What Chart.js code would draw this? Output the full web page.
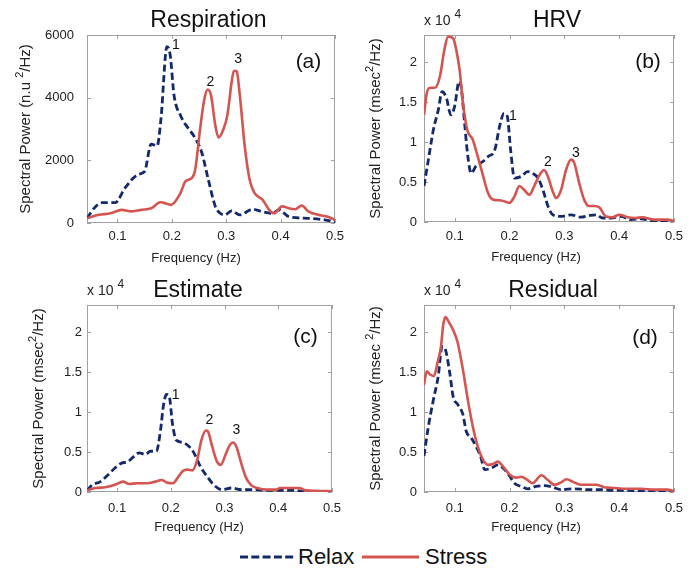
<!DOCTYPE html>
<html>
<head>
<meta charset="utf-8">
<script src="https://cdn.jsdelivr.net/npm/chart.js@4.4.1/dist/chart.umd.min.js"></script>
<style>
  body { margin: 0; background: #fff; }
  #page { position: relative; width: 695px; height: 569px; overflow: hidden; font-family: "Liberation Sans", Arial, sans-serif; }
  #page canvas { position: absolute; }
  #legend { position: absolute; left: 0; top: 543px; width: 695px; height: 28px; }
  #legend svg, #legend span { position: absolute; }
  #legend span { font-size: 22px; line-height: 28px; top: 0; color: #111; }
</style>
</head>
<body>
<div id="page">
  <div id="legend">
    <svg style="left:240px;top:12px" width="54" height="4"><line x1="0" y1="2" x2="54" y2="2" stroke="#14296b" stroke-width="3" stroke-dasharray="8 3.3"/></svg>
    <span style="left:298px">Relax</span>
    <svg style="left:362px;top:12px" width="57" height="4"><line x1="0" y1="2" x2="57" y2="2" stroke="#d4544f" stroke-width="3"/></svg>
    <span style="left:425px">Stress</span>
  </div>
</div>
<script>
const freqTicks = [0.1, 0.2, 0.3, 0.4, 0.5];
const respTicks = [0, 2000, 4000, 6000];
const hrvTicks = [0, 0.5, 1, 1.5, 2];
const peakNames = ["1", "2", "3"];

// (a) respiration, n.u.^2/Hz
const respRelaxHz = [0.044, 0.060, 0.072, 0.096, 0.114, 0.138, 0.150, 0.162, 0.173, 0.180, 0.191, 0.197, 0.204, 0.216, 0.231, 0.240, 0.255, 0.267, 0.280, 0.289, 0.298, 0.310, 0.325, 0.349, 0.364, 0.385, 0.397, 0.415, 0.451, 0.481, 0.500];
const respRelaxPow = [150, 530, 650, 650, 1120, 1550, 1650, 2520, 2460, 3320, 5630, 5360, 4080, 3430, 3000, 2790, 2250, 1390, 530, 310, 260, 390, 260, 440, 370, 310, 420, 200, 150, 100, 40];
const respStressHz = [0.044, 0.066, 0.087, 0.108, 0.123, 0.144, 0.162, 0.179, 0.199, 0.216, 0.225, 0.237, 0.243, 0.252, 0.260, 0.266, 0.272, 0.280, 0.286, 0.295, 0.302, 0.310, 0.314, 0.319, 0.325, 0.334, 0.343, 0.352, 0.367, 0.379, 0.388, 0.403, 0.415, 0.427, 0.439, 0.451, 0.469, 0.487, 0.500];
const respStressPow = [150, 260, 310, 420, 370, 420, 470, 660, 580, 960, 1330, 1440, 1710, 3000, 3970, 4260, 4080, 3110, 2730, 3000, 3430, 4500, 4850, 4850, 4080, 2460, 1390, 960, 740, 420, 310, 530, 470, 440, 560, 370, 260, 200, 100];
const respPeakHz = [0.2075, 0.271, 0.322];
const respPeakPow = [5680, 4500, 5230];

// (b) HRV, x 10^4 msec^2/Hz
const hrvRelaxHz = [0.044, 0.052, 0.061, 0.070, 0.077, 0.085, 0.093, 0.100, 0.108, 0.112, 0.118, 0.124, 0.130, 0.139, 0.152, 0.161, 0.173, 0.182, 0.190, 0.196, 0.202, 0.209, 0.221, 0.233, 0.242, 0.252, 0.261, 0.270, 0.279, 0.294, 0.312, 0.330, 0.345, 0.358, 0.370, 0.385, 0.403, 0.421, 0.439, 0.464, 0.500];
const hrvRelaxPow = [0.45, 0.78, 1.15, 1.40, 1.63, 1.55, 1.34, 1.45, 1.76, 1.68, 1.24, 0.82, 0.61, 0.70, 0.76, 0.82, 0.90, 1.20, 1.36, 1.32, 0.90, 0.55, 0.57, 0.63, 0.61, 0.55, 0.40, 0.20, 0.09, 0.07, 0.09, 0.06, 0.08, 0.09, 0.05, 0.05, 0.07, 0.03, 0.04, 0.01, 0];
const hrvStressHz = [0.044, 0.049, 0.055, 0.064, 0.073, 0.081, 0.088, 0.097, 0.103, 0.109, 0.115, 0.123, 0.133, 0.142, 0.152, 0.161, 0.170, 0.185, 0.200, 0.209, 0.218, 0.227, 0.236, 0.245, 0.255, 0.263, 0.270, 0.279, 0.285, 0.294, 0.303, 0.312, 0.318, 0.327, 0.336, 0.345, 0.355, 0.364, 0.376, 0.388, 0.400, 0.415, 0.430, 0.442, 0.464, 0.488, 0.500];
const hrvStressPow = [1.34, 1.61, 1.68, 1.68, 1.82, 2.15, 2.32, 2.30, 2.15, 1.90, 1.49, 1.15, 1.03, 0.82, 0.57, 0.36, 0.28, 0.27, 0.24, 0.32, 0.45, 0.40, 0.34, 0.45, 0.59, 0.65, 0.57, 0.38, 0.30, 0.40, 0.65, 0.78, 0.74, 0.49, 0.28, 0.20, 0.20, 0.18, 0.07, 0.06, 0.09, 0.06, 0.05, 0.06, 0.03, 0.03, 0.01];
const hrvPeakHz = [0.206, 0.270, 0.321];
const hrvPeakPow = [1.33, 0.745, 0.86];

// (c) estimate
const estRelaxHz = [0.044, 0.054, 0.069, 0.084, 0.096, 0.108, 0.120, 0.132, 0.141, 0.153, 0.162, 0.173, 0.181, 0.186, 0.192, 0.197, 0.203, 0.210, 0.222, 0.234, 0.243, 0.255, 0.267, 0.280, 0.295, 0.313, 0.331, 0.355, 0.379, 0.403, 0.433, 0.451, 0.500];
const estRelaxPow = [0.02, 0.09, 0.13, 0.22, 0.30, 0.36, 0.38, 0.45, 0.49, 0.47, 0.51, 0.51, 0.78, 1.07, 1.22, 1.20, 0.86, 0.65, 0.62, 0.57, 0.49, 0.32, 0.20, 0.09, 0.03, 0.05, 0.03, 0.03, 0.02, 0.02, 0.02, 0, 0];
const estStressHz = [0.044, 0.060, 0.078, 0.096, 0.111, 0.123, 0.138, 0.156, 0.171, 0.183, 0.192, 0.204, 0.213, 0.222, 0.231, 0.240, 0.249, 0.257, 0.265, 0.269, 0.277, 0.286, 0.293, 0.302, 0.310, 0.316, 0.322, 0.331, 0.340, 0.349, 0.361, 0.379, 0.397, 0.403, 0.439, 0.451, 0.500];
const estStressPow = [0.02, 0.05, 0.06, 0.09, 0.13, 0.10, 0.11, 0.11, 0.13, 0.15, 0.12, 0.11, 0.18, 0.26, 0.28, 0.27, 0.40, 0.65, 0.77, 0.76, 0.57, 0.38, 0.34, 0.47, 0.59, 0.62, 0.57, 0.36, 0.18, 0.09, 0.05, 0.03, 0.03, 0.05, 0.05, 0.02, 0.01];
const estPeakHz = [0.209, 0.272, 0.322];
const estPeakPow = [1.21, 0.90, 0.775];

// (d) residual
const resRelaxHz = [0.044, 0.052, 0.061, 0.070, 0.077, 0.082, 0.091, 0.097, 0.106, 0.115, 0.121, 0.130, 0.139, 0.147, 0.155, 0.167, 0.179, 0.191, 0.200, 0.209, 0.221, 0.233, 0.248, 0.264, 0.279, 0.294, 0.318, 0.342, 0.367, 0.391, 0.415, 0.439, 0.500];
const resRelaxPow = [0.45, 0.82, 1.15, 1.45, 1.82, 1.80, 1.49, 1.20, 1.09, 0.97, 0.76, 0.68, 0.57, 0.45, 0.28, 0.30, 0.34, 0.28, 0.20, 0.11, 0.07, 0.04, 0.07, 0.08, 0.06, 0.03, 0.04, 0.03, 0.03, 0.02, 0.02, 0.01, 0];
const resStressHz = [0.044, 0.049, 0.055, 0.062, 0.069, 0.075, 0.079, 0.083, 0.089, 0.097, 0.105, 0.115, 0.124, 0.133, 0.142, 0.152, 0.161, 0.170, 0.179, 0.188, 0.200, 0.212, 0.221, 0.233, 0.242, 0.258, 0.270, 0.282, 0.294, 0.304, 0.315, 0.330, 0.345, 0.358, 0.373, 0.391, 0.415, 0.439, 0.464, 0.488, 0.500];
const resStressPow = [1.34, 1.51, 1.47, 1.45, 1.63, 1.82, 2.09, 2.19, 2.13, 2.03, 1.88, 1.53, 1.15, 0.82, 0.57, 0.40, 0.34, 0.35, 0.38, 0.32, 0.22, 0.18, 0.19, 0.15, 0.11, 0.21, 0.15, 0.09, 0.12, 0.16, 0.13, 0.09, 0.09, 0.09, 0.06, 0.05, 0.04, 0.04, 0.03, 0.03, 0.01];

const FONT = "'Liberation Sans', Arial, sans-serif";
const RELAX = "#14296b";
const STRESS = "#d4544f";
Chart.defaults.font.family = FONT;

// page layout of each panel (canvas box and plot box, in page pixels)
const panels = [
  { title: "Respiration", tag: "(a)", unit: "n.u ", exp: false, yMax: 6000, yTicks: respTicks,
    relax: [respRelaxHz, respRelaxPow], stress: [respStressHz, respStressPow], peaks: [respPeakHz, respPeakPow],
    cv: { l: 0, t: 0, w: 350, h: 270 }, area: { l: 87, t: 35, r: 338, b: 223 },
    yPad: 13, xPad: 6, titleDx: -2.5, tagDx: -26.5, tagDy: 27.5, yTitleOff: 57, xTitleDx: 109 },
  { title: "HRV", tag: "(b)", unit: "msec", exp: true, yMax: 2.34, yTicks: hrvTicks,
    relax: [hrvRelaxHz, hrvRelaxPow], stress: [hrvStressHz, hrvStressPow], peaks: [hrvPeakHz, hrvPeakPow],
    cv: { l: 345, t: 0, w: 350, h: 270 }, area: { l: 424, t: 35, r: 674, b: 222 },
    yPad: 7, xPad: 7, titleDx: 8, tagDx: -26, tagDy: 27.5, yTitleOff: 44, xTitleDx: 112 },
  { title: "Estimate", tag: "(c)", unit: "msec", exp: true, yMax: 2.34, yTicks: hrvTicks,
    relax: [estRelaxHz, estRelaxPow], stress: [estStressHz, estStressPow], peaks: [estPeakHz, estPeakPow],
    cv: { l: 0, t: 270, w: 350, h: 270 }, area: { l: 87, t: 305, r: 338, b: 492 },
    yPad: 5, xPad: 9, titleDx: -11.5, tagDx: -26.5, tagDy: 32, yTitleOff: 44, xTitleDx: 112 },
  { title: "Residual", tag: "(d)", unit: "msec ", exp: true, yMax: 2.34, yTicks: hrvTicks,
    relax: [resRelaxHz, resRelaxPow], stress: [resStressHz, resStressPow], peaks: null,
    cv: { l: 345, t: 270, w: 350, h: 270 }, area: { l: 424, t: 305, r: 674, b: 492 },
    yPad: 7, xPad: 8.5, titleDx: 4, tagDx: -29, tagDy: 33, yTitleOff: 44, xTitleDx: 112 }
];

const toPoints = (hz, pow) => hz.map((x, i) => ({ x, y: pow[i] }));

function decor(p) {
  return {
    id: "decor",
    beforeDatasetsDraw(chart) {
      const { ctx, chartArea: a, scales: { x, y } } = chart;
      ctx.save();
      ctx.strokeStyle = "#a0a0a0";
      ctx.lineWidth = 1;
      ctx.strokeRect(a.left + 0.5, a.top + 0.5, a.right - a.left - 1, a.bottom - a.top - 1);
      ctx.beginPath();
      freqTicks.forEach(v => {
        const px = Math.round(x.getPixelForValue(v)) + 0.5;
        ctx.moveTo(px, a.bottom); ctx.lineTo(px, a.bottom - 4);
        ctx.moveTo(px, a.top); ctx.lineTo(px, a.top + 4);
      });
      p.yTicks.forEach(v => {
        const py = Math.round(y.getPixelForValue(v)) + 0.5;
        ctx.moveTo(a.left, py); ctx.lineTo(a.left + 4, py);
        ctx.moveTo(a.right, py); ctx.lineTo(a.right - 4, py);
      });
      ctx.stroke();
      ctx.restore();
    },
    afterDraw(chart) {
      const { ctx, chartArea: a, scales: { x, y } } = chart;
      ctx.save();
      ctx.fillStyle = "#111";

      // title
      ctx.font = "23px " + FONT;
      ctx.textAlign = "center";
      ctx.textBaseline = "alphabetic";
      ctx.fillText(p.title, (a.left + a.right) / 2 + p.titleDx, a.top - 8.5);

      // panel tag
      ctx.font = "21px " + FONT;
      ctx.textBaseline = "middle";
      ctx.fillText(p.tag, a.right + p.tagDx, a.top + p.tagDy);

      // x title
      ctx.font = "13px " + FONT;
      ctx.fillStyle = "#222";
      ctx.fillText("Frequency (Hz)", a.left + p.xTitleDx, a.bottom + 35);

      // exponent
      if (p.exp) {
        ctx.textAlign = "left";
        ctx.textBaseline = "alphabetic";
        ctx.font = "14px " + FONT;
        ctx.fillText("x 10", a.left, a.top - 10);
        const w = ctx.measureText("x 10").width;
        ctx.font = "12px " + FONT;
        ctx.fillText("4", a.left + w + 4, a.top - 17);
      }

      // peak numbers
      if (p.peaks) {
        ctx.font = "14px " + FONT;
        ctx.textAlign = "center";
        ctx.textBaseline = "middle";
        ctx.fillStyle = "#111";
        p.peaks[0].forEach((hz, i) => {
          ctx.fillText(peakNames[i], x.getPixelForValue(hz), y.getPixelForValue(p.peaks[1][i]));
        });
      }

      // y title with superscript
      ctx.fillStyle = "#222";
      ctx.textAlign = "left";
      ctx.textBaseline = "alphabetic";
      const s1 = "Spectral Power (" + p.unit, s2 = "2", s3 = "/Hz)";
      ctx.font = "15px " + FONT;
      const w1 = ctx.measureText(s1).width, w3 = ctx.measureText(s3).width;
      ctx.font = "11px " + FONT;
      const w2 = ctx.measureText(s2).width;
      ctx.translate(a.left - p.yTitleOff, (a.top + a.bottom) / 2);
      ctx.rotate(-Math.PI / 2);
      let cx = -(w1 + w2 + w3) / 2;
      ctx.font = "15px " + FONT;
      ctx.fillText(s1, cx, 0);
      cx += w1;
      ctx.font = "11px " + FONT;
      ctx.fillText(s2, cx, -7);
      cx += w2;
      ctx.font = "15px " + FONT;
      ctx.fillText(s3, cx, 0);
      ctx.restore();
    }
  };
}

const page = document.getElementById("page");

panels.forEach(p => {
  const canvas = document.createElement("canvas");
  canvas.width = p.cv.w;
  canvas.height = p.cv.h;
  canvas.style.left = p.cv.l + "px";
  canvas.style.top = p.cv.t + "px";
  page.appendChild(canvas);

  const tickFont = { family: FONT, size: 13 };

  new Chart(canvas, {
    type: "line",
    data: {
      datasets: [
        { label: "Relax", data: toPoints(p.relax[0], p.relax[1]), borderColor: RELAX, borderWidth: 2.8,
          borderDash: [7, 3.5], pointRadius: 0, cubicInterpolationMode: "monotone", fill: false, order: 1 },
        { label: "Stress", data: toPoints(p.stress[0], p.stress[1]), borderColor: STRESS, borderWidth: 2.6,
          pointRadius: 0, cubicInterpolationMode: "monotone", fill: false, order: 0 }
      ]
    },
    options: {
      responsive: false,
      animation: false,
      events: [],
      layout: {
        padding: { left: 0, bottom: 0, top: p.area.t - p.cv.t, right: p.cv.l + p.cv.w - p.area.r }
      },
      plugins: { legend: { display: false }, tooltip: { enabled: false } },
      scales: {
        x: {
          type: "linear", min: 0.044, max: 0.5,
          afterBuildTicks: s => { s.ticks = freqTicks.map(v => ({ value: v })); },
          afterFit: s => { s.height = p.cv.t + p.cv.h - p.area.b; },
          grid: { display: false, drawTicks: false },
          border: { display: false },
          ticks: { padding: p.xPad, color: "#222", font: tickFont, maxRotation: 0, autoSkip: false,
                   callback: v => Number(v).toFixed(1) }
        },
        y: {
          type: "linear", min: 0, max: p.yMax,
          afterBuildTicks: s => { s.ticks = p.yTicks.map(v => ({ value: v })); },
          afterFit: s => { s.width = p.area.l - p.cv.l; },
          grid: { display: false, drawTicks: false },
          border: { display: false },
          ticks: { padding: p.yPad, color: "#222", font: tickFont, autoSkip: false,
                   callback: v => String(v) }
        }
      }
    },
    plugins: [decor(p)]
  });
});
</script>
</body>
</html>
